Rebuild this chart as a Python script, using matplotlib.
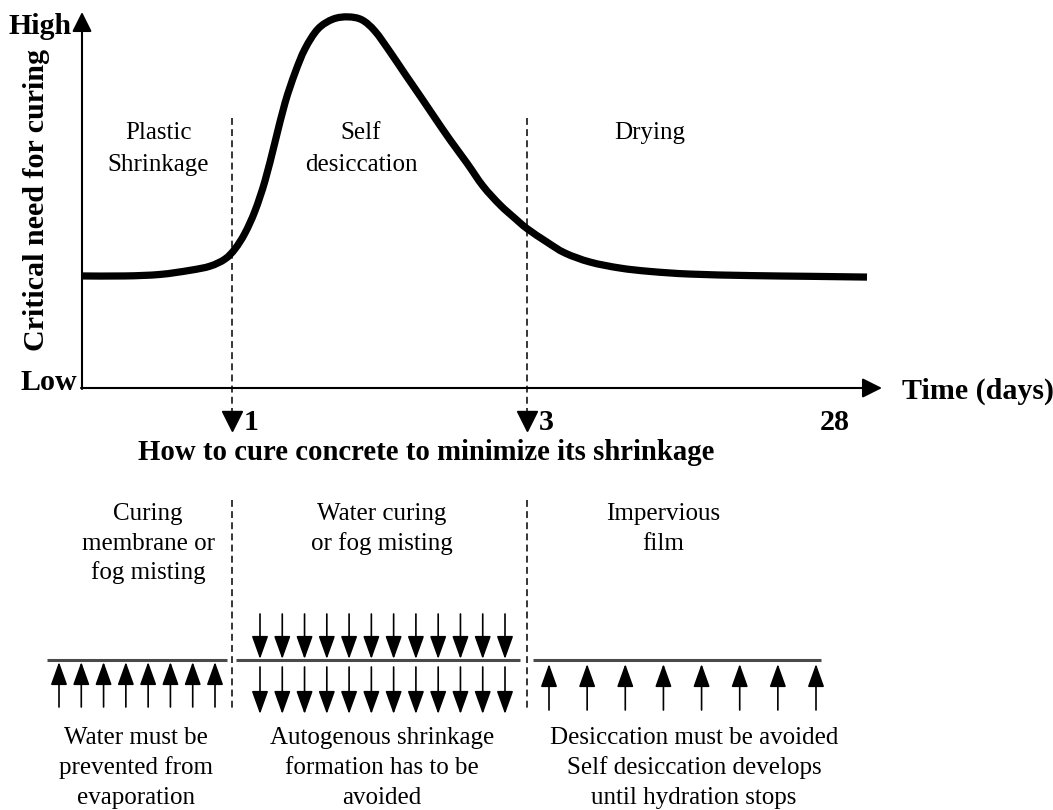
import matplotlib
matplotlib.use("Agg")
import matplotlib.pyplot as plt
import numpy as np
from matplotlib.transforms import blended_transform_factory
from matplotlib.path import Path
from matplotlib.patches import PathPatch

# ---------------- data ----------------
# position along the (schematic) time axis and relative need for curing (0 = Low, 100 = High)
time_pos = [0, 43, 78, 108, 128, 143, 153, 163, 173, 183, 193, 203, 213, 223, 236, 251,
            266, 280, 293, 308, 323, 338, 353, 368, 385, 401, 418, 433, 445, 465, 483,
            508, 538, 568, 608, 668, 728, 785]
need = [29.8, 29.8, 30.2, 31.3, 32.4, 34.3, 37.0, 41.2, 47.1, 55.1, 65.4, 75.8, 83.8,
        90.2, 95.5, 98.1, 98.7, 97.9, 94.9, 89.4, 83.5, 77.7, 71.8, 66.0, 59.8, 53.7,
        48.7, 45.1, 42.4, 38.8, 35.9, 33.5, 31.9, 31.0, 30.3, 29.9, 29.7, 29.5]

day_labels = ["1", "3", "28"]
day_pos = [150, 445, 753]          # position of each day on the time axis
stage_bounds = [150, 445]          # day 1 and day 3

stage_names = [["Plastic", "Shrinkage"], ["Self", "desiccation"], ["Drying"]]
cure_methods = [["Curing", "membrane or", "fog misting"],
                ["Water curing", "or fog misting"],
                ["Impervious", "film"]]
cure_notes = [["Water must be", "prevented from", "evaporation"],
              ["Autogenous shrinkage", "formation has to be", "avoided"],
              ["Desiccation must be avoided", "Self desiccation develops",
               "until hydration stops"]]
title = "How to cure concrete to minimize its shrinkage"
y_label = "Critical need for curing"
x_label = "Time (days)"

# ---------------- layout ----------------
W, H = 1053, 810
fig = plt.figure(figsize=(W / 100, H / 100), dpi=100)
fig.patch.set_facecolor("white")

ax = fig.add_axes([0, 0, 1, 1])
ax.set_xlim(0, W)
ax.set_ylim(H, 0)
ax.axis("off")

X0, Y0, XT, YT = 82, 388, 882, 12   # origin and arrow tips (pixels)
ac = fig.add_axes([X0 / W, 1 - Y0 / H, 800 / W, (Y0 - YT) / H])
ac.set_xlim(0, 800)
ac.set_ylim(0, 100)
ac.axis("off")
ac.patch.set_visible(False)
ac.set_zorder(2)

trans = blended_transform_factory(ac.transData, ax.transData)

SERIF = "Liberation Serif"
BODY = 18
BOLD = 21.6

# curve: smooth (Catmull-Rom style Bezier) path through the data points
P = np.column_stack([time_pos, need]).astype(float)
Pe = np.vstack([P[0], P, P[-1]])
verts = [tuple(P[0])]
codes = [Path.MOVETO]
for i in range(1, len(Pe) - 2):
    p0, p1, p2, p3 = Pe[i - 1], Pe[i], Pe[i + 1], Pe[i + 2]
    c1 = p1 + (p2 - p0) / 6.0
    c2 = p2 - (p3 - p1) / 6.0
    verts += [tuple(c1), tuple(c2), tuple(p2)]
    codes += [Path.CURVE4] * 3
ac.add_patch(PathPatch(Path(verts, codes), facecolor="none", edgecolor="black",
                       lw=5.2, joinstyle="round", capstyle="butt"))

# axes with arrows
arrow_kw = dict(arrowstyle="-|>,head_length=0.6,head_width=0.3", color="black",
                lw=1.5, mutation_scale=20, shrinkA=0, shrinkB=0)
ax.annotate("", xy=(X0, YT), xytext=(X0, Y0 + 1), arrowprops=arrow_kw)
ax.annotate("", xy=(XT, Y0), xytext=(X0 - 1, Y0), arrowprops=arrow_kw)

ax.text(72, 26, "High", ha="right", va="center", fontsize=BOLD,
        fontweight="bold", family=SERIF)
ax.text(77, 383, "Low", ha="right", va="center", fontsize=BOLD,
        fontweight="bold", family=SERIF)
ax.text(37, 200, y_label, ha="center", va="center", rotation=90,
        fontsize=BOLD, fontweight="bold", family=SERIF)
ax.text(902, 391, x_label, ha="left", va="center", fontsize=BOLD,
        fontweight="bold", family=SERIF)

# stage boundaries
dash = (0, (4.5, 2.8))
for b in stage_bounds:
    ax.plot([b, b], [118, 414], transform=trans, color="black", lw=1.1, ls=dash)
    ax.plot([b, b], [500, 708], transform=trans, color="black", lw=1.1, ls=dash)
ax.plot(stage_bounds, [421, 421], transform=trans, ls="none", marker="v",
        ms=14, color="black")

# day labels
for lab, p in zip(day_labels, day_pos):
    if p in stage_bounds:
        ax.annotate(lab, xy=(p, 422), xycoords=trans, xytext=(12, 0),
                    textcoords="offset pixels", ha="left", va="center",
                    fontsize=BOLD, fontweight="bold", family=SERIF)
    else:
        ax.text(p, 422, lab, transform=trans, ha="center", va="center",
                fontsize=BOLD, fontweight="bold", family=SERIF)

# title (fit to width)
t = ax.text(426, 453, title, ha="center", va="center", fontsize=20,
            fontweight="bold", family=SERIF)
fig.canvas.draw()
r = fig.canvas.get_renderer()
wpx = t.get_window_extent(r).width
t.set_fontsize(20 * 576 / wpx)


def lines(x, y0, step, txts):
    for i, s in enumerate(txts):
        ax.text(x, y0 + i * step, s, ha="center", va="center", fontsize=BODY,
                family=SERIF)


for x, txt in zip([158, 361, 650], stage_names):
    lines(x, 133, 32, txt)
for x, txt in zip([148, 382, 663], cure_methods):
    lines(x, 514, 29.5, txt)
for x, txt in zip([136, 382, 694], cure_notes):
    lines(x, 738, 30, txt)

# surfaces
for xa, xb in [(47, 227), (236, 520), (533, 821)]:
    ax.plot([xa, xb], [660, 660], color="#4a4a4a", lw=2.2, solid_capstyle="butt")

small_kw = dict(arrowstyle="-|>,head_length=0.95,head_width=0.34", color="black",
                lw=1.2, mutation_scale=15, shrinkA=0, shrinkB=0)
for x in np.linspace(59, 215, 8):
    ax.annotate("", xy=(x, 662), xytext=(x, 707), arrowprops=small_kw)
for x in np.linspace(260, 505, 12):
    ax.annotate("", xy=(x, 659), xytext=(x, 614), arrowprops=small_kw)
    ax.annotate("", xy=(x, 714), xytext=(x, 667), arrowprops=small_kw)
for x in np.linspace(549, 816, 8):
    ax.annotate("", xy=(x, 664), xytext=(x, 710), arrowprops=small_kw)

fig.savefig("out.png", dpi=100, facecolor="white")
